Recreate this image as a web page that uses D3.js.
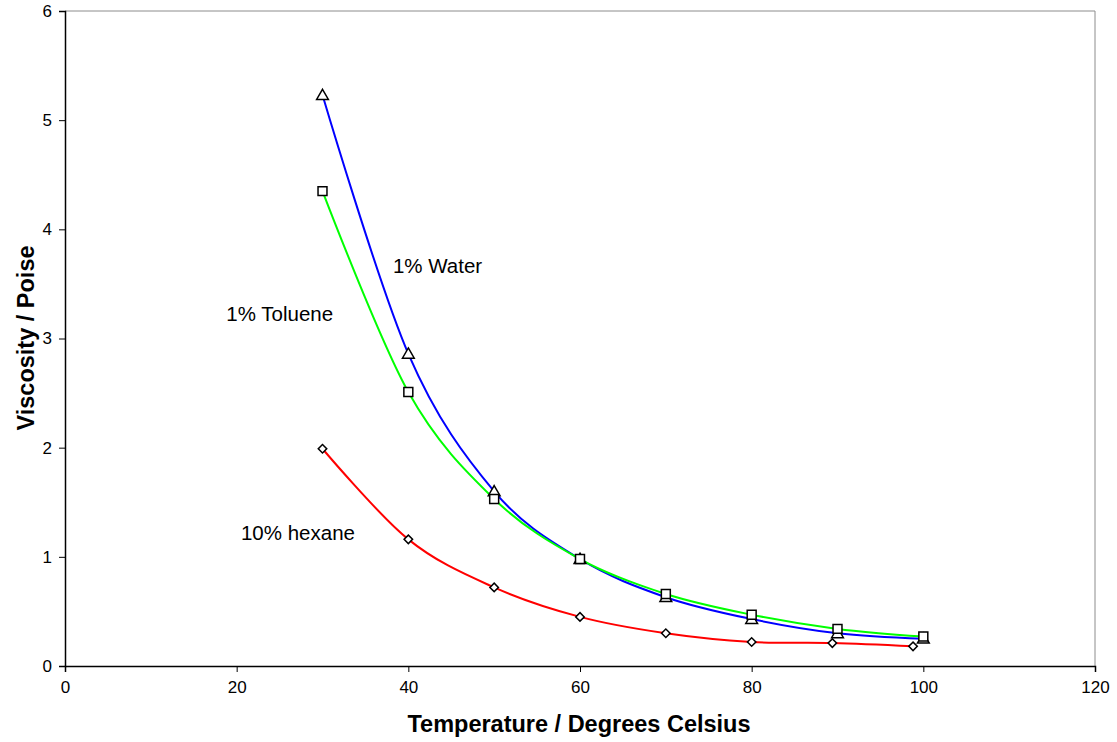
<!DOCTYPE html>
<html>
<head>
<meta charset="utf-8">
<script src="https://cdn.jsdelivr.net/npm/d3@7"></script>
<style>
  body { margin: 0; background: #fff; }
  svg text { font-family: "Liberation Sans", Arial, sans-serif; fill: #000; }
</style>
</head>
<body>
<div id="chart"></div>
<script>
// temperatures (deg C) and viscosities (poise)
var tempStd = [30, 40, 50, 60, 70, 80, 90, 100];
var waterVisc = [5.23, 2.86, 1.60, 0.98, 0.63, 0.43, 0.30, 0.25];
var tolueneVisc = [4.35, 2.51, 1.53, 0.98, 0.66, 0.47, 0.34, 0.27];
var hexaneTemp = [30, 40, 50, 60, 70, 80, 89.4, 98.8];
var hexaneVisc = [1.99, 1.16, 0.72, 0.45, 0.30, 0.22, 0.21, 0.18];
var xTicks = [0, 20, 40, 60, 80, 100, 120];
var yTicks = [0, 1, 2, 3, 4, 5, 6];

var svgWidth = 1117, svgHeight = 742;
var margin = { top: 11, right: 22, bottom: 76, left: 65 };
var width = svgWidth - margin.left - margin.right;
var height = svgHeight - margin.top - margin.bottom;

var svg = d3.select("#chart").append("svg")
    .attr("width", svgWidth)
    .attr("height", svgHeight);

var chartGroup = svg.append("g")
    .attr("transform", `translate(${margin.left}, ${margin.top})`);

var xScale = d3.scaleLinear().domain([0, 120]).range([0, width]);
var yScale = d3.scaleLinear().domain([0, 6]).range([height, 0]);

// gray frame on top and right
chartGroup.append("path")
    .attr("d", `M0,0H${width}V${height}`)
    .attr("fill", "none")
    .attr("stroke", "#8c8c8c")
    .attr("stroke-width", 1);

var xAxis = d3.axisBottom(xScale).tickValues(xTicks).tickFormat(d3.format("d")).tickSize(6).tickPadding(9);
var yAxis = d3.axisLeft(yScale).tickValues(yTicks).tickFormat(d3.format("d")).tickSize(6).tickPadding(7);

var gx = chartGroup.append("g")
    .attr("transform", `translate(0, ${height})`)
    .call(xAxis);
var gy = chartGroup.append("g").call(yAxis);

[gx, gy].forEach(function (g) {
    g.attr("font-size", null).attr("font-family", null);
    g.select(".domain").attr("stroke", "#000").attr("stroke-width", 1.5);
    g.selectAll(".tick line").attr("stroke", "#000");
    g.selectAll(".tick text")
        .style("font-size", "17px")
        .attr("fill", "#000");
});

var series = [
    { name: "water", xs: tempStd, ys: waterVisc, color: "#0000ff", marker: "triangle" },
    { name: "toluene", xs: tempStd, ys: tolueneVisc, color: "#00ff00", marker: "square" },
    { name: "hexane", xs: hexaneTemp, ys: hexaneVisc, color: "#ff0000", marker: "diamond" }
];

var line = d3.line()
    .x(d => xScale(d[0]))
    .y(d => yScale(d[1]))
    .curve(d3.curveCatmullRom.alpha(0));

series.forEach(function (s) {
    var pts = s.xs.map((x, i) => [x, s.ys[i]]);
    chartGroup.append("path")
        .datum(pts)
        .attr("d", line)
        .attr("fill", "none")
        .attr("stroke", s.color)
        .attr("stroke-width", 2);
});

var shapes = {
    triangle: d3.symbol().type(d3.symbolTriangle).size(60),
    square: d3.symbol().type(d3.symbolSquare).size(80),
    diamond: d3.symbol().type(d3.symbolSquare).size(36)
};

series.forEach(function (s) {
    var pts = s.xs.map((x, i) => [x, s.ys[i]]);
    chartGroup.selectAll("path." + s.name)
        .data(pts)
        .enter()
        .append("path")
        .attr("class", s.name)
        .attr("d", shapes[s.marker])
        .attr("transform", function (d) {
            var t = `translate(${xScale(d[0])}, ${yScale(d[1])})`;
            if (s.marker === "diamond") t += " rotate(45)";
            if (s.marker === "triangle") t += " translate(0, 1)";
            return t;
        })
        .attr("fill", "#fff")
        .attr("stroke", "#000")
        .attr("stroke-width", 1.5);
});

// series labels
var labels = [
    { text: "1% Water", x: 38.2, y: 3.6 },
    { text: "1% Toluene", x: 18.8, y: 3.16 },
    { text: "10% hexane", x: 20.5, y: 1.15 }
];
chartGroup.selectAll("text.series-label")
    .data(labels)
    .enter()
    .append("text")
    .attr("class", "series-label")
    .attr("x", d => xScale(d.x))
    .attr("y", d => yScale(d.y))
    .attr("font-size", "20.5px")
    .text(d => d.text);

// axis titles
svg.append("text")
    .attr("x", 579)
    .attr("y", 732)
    .attr("text-anchor", "middle")
    .attr("font-size", "23.5px")
    .attr("font-weight", "bold")
    .text("Temperature / Degrees Celsius");

svg.append("text")
    .attr("transform", "translate(34, 338) rotate(-90)")
    .attr("text-anchor", "middle")
    .attr("font-size", "23.5px")
    .attr("font-weight", "bold")
    .text("Viscosity / Poise");
</script>
</body>
</html>
